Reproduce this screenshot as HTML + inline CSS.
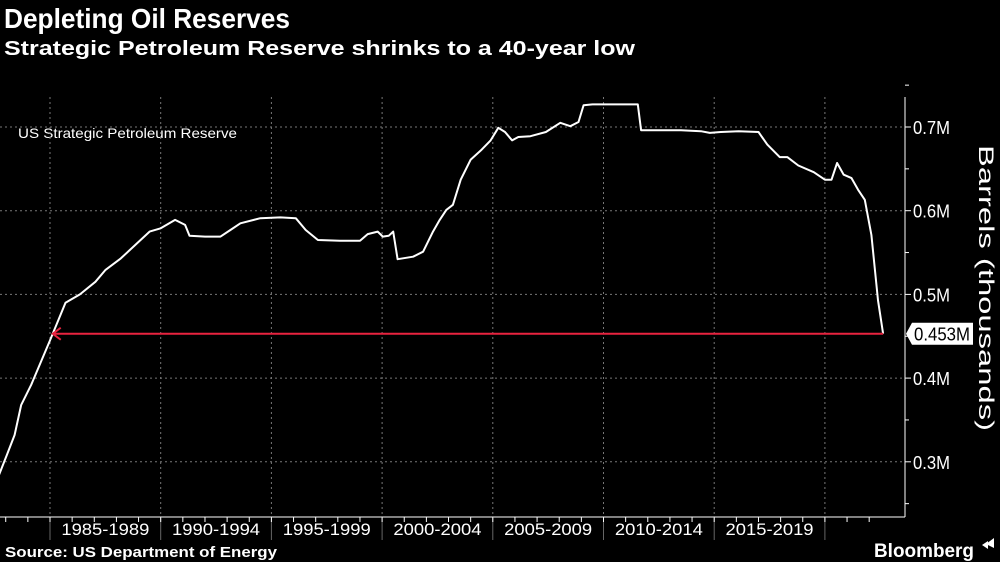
<!DOCTYPE html>
<html><head><meta charset="utf-8"><style>
html,body{margin:0;padding:0;background:#000;width:1000px;height:562px;overflow:hidden}
svg{display:block;font-family:"Liberation Sans",sans-serif}
</style></head><body>
<svg id="c" width="1000" height="562" viewBox="0 0 1000 562">
<rect width="1000" height="562" fill="#000"/>
<text x="4" y="28" fill="#fff" font-size="28" font-weight="bold" textLength="286" lengthAdjust="spacingAndGlyphs">Depleting Oil Reserves</text>
<text x="4" y="55" fill="#fff" font-size="20" font-weight="bold" textLength="631" lengthAdjust="spacingAndGlyphs">Strategic Petroleum Reserve shrinks to a 40-year low</text>
<text x="18" y="138" fill="#fff" font-size="14" textLength="219" lengthAdjust="spacingAndGlyphs">US Strategic Petroleum Reserve</text>
<g id="grid"></g>
<g id="axes"></g>
<g id="series"></g>
<text x="5" y="557" fill="#fff" font-size="15" font-weight="bold" textLength="272" lengthAdjust="spacingAndGlyphs">Source: US Department of Energy</text>
<text x="874" y="557" fill="#fff" font-size="19" font-weight="bold" textLength="100" lengthAdjust="spacingAndGlyphs">Bloomberg</text>
<path d="M982 545 L988 541 L988 549 Z M986 544 l8 -6 v10 Z" fill="#fff"/>
<text transform="translate(979,288) rotate(90)" text-anchor="middle" fill="#fff" font-size="21" textLength="286" lengthAdjust="spacingAndGlyphs">Barrels (thousands)</text>
</svg>
<script>
const years=[1982.6,1983.05,1983.4,1983.7,1984.15,1985,1985.7,1986.35,1987.05,1987.5,1988.2,1988.85,1989.5,1990,1990.65,1991.1,1991.3,1992,1992.7,1993.15,1993.6,1994.5,1995.4,1996.1,1996.55,1997.1,1998.1,1999,1999.35,1999.8,2000.03,2000.3,2000.5,2000.7,2001.4,2001.85,2002.3,2002.6,2002.9,2003.2,2003.55,2004,2004.5,2004.9,2005.25,2005.55,2005.87,2006.15,2006.7,2007.4,2008.05,2008.5,2008.87,2009.1,2009.5,2010.1,2010.8,2011.55,2011.7,2012.6,2013.5,2014.4,2014.8,2015.3,2016.1,2017,2017.4,2017.96,2018.3,2018.8,2019.5,2020,2020.3,2020.55,2020.85,2021.2,2021.5,2021.8,2022.1,2022.4,2022.63];
const values=[0.278,0.308,0.332,0.368,0.392,0.445,0.49,0.50,0.515,0.529,0.543,0.559,0.575,0.579,0.589,0.583,0.570,0.569,0.569,0.577,0.585,0.591,0.592,0.591,0.577,0.565,0.564,0.564,0.572,0.575,0.569,0.570,0.575,0.542,0.545,0.551,0.575,0.589,0.601,0.607,0.637,0.661,0.673,0.684,0.699,0.694,0.684,0.688,0.689,0.694,0.705,0.701,0.706,0.726,0.727,0.727,0.727,0.727,0.696,0.696,0.696,0.695,0.693,0.694,0.695,0.694,0.679,0.664,0.664,0.654,0.646,0.637,0.637,0.657,0.643,0.639,0.625,0.613,0.571,0.493,0.453];
const yTicks=[0.3,0.4,0.5,0.6,0.7];
const yTickLabels=["0.3M","0.4M","0.5M","0.6M","0.7M"];
const xBounds=[1985,1990,1995,2000,2005,2010,2015,2020];
const xLabels=["1985-1989","1990-1994","1995-1999","2000-2004","2005-2009","2010-2014","2015-2019"];
const latestValue=0.453;
const latestLabel="0.453M";

const NS="http://www.w3.org/2000/svg";
const xS=y=>50+(y-1985)*22.14;
const yS=v=>127+(0.7-v)*837;
function mk(tag,attrs,parent){const e=document.createElementNS(NS,tag);for(const k in attrs)e.setAttribute(k,attrs[k]);parent.appendChild(e);return e;}
const grid=document.getElementById('grid'),axes=document.getElementById('axes'),series=document.getElementById('series');
yTicks.forEach((t,i)=>{
  const l=mk('line',{x1:0,x2:905,y1:yS(t),y2:yS(t),stroke:'#777','stroke-dasharray':'2,3','stroke-width':1},grid);
  
  
  const tk=mk('line',{x1:905,x2:911,y1:yS(t),y2:yS(t),stroke:'#fff'},axes);
  
  
  const tx=mk('text',{x:913,y:yS(t)+7,fill:'#fff','font-size':18,textLength:37,lengthAdjust:'spacingAndGlyphs'},axes);
  tx.textContent=yTickLabels[i];
  
  
});
for(let v=0.25;v<0.76;v+=0.1){const m=mk('line',{x1:905,x2:909,y1:yS(v),y2:yS(v),stroke:'#fff'},axes);
  
  }
mk('line',{x1:905,x2:905,y1:97,y2:517,stroke:'#fff'},axes);
mk('line',{x1:0,x2:905,y1:517,y2:517,stroke:'#fff'},axes);
xBounds.forEach(b=>{
  const g=mk('line',{x1:xS(b),x2:xS(b),y1:97,y2:517,stroke:'#777','stroke-dasharray':'2,3'},grid);
  
  
  const t=mk('line',{x1:xS(b),x2:xS(b),y1:517,y2:540,stroke:'#666'},axes);
  
  
});
for(let y=1983;y<=2022;y++){const m=mk('line',{x1:xS(y),x2:xS(y),y1:517,y2:522,stroke:'#fff'},axes);
  
  }
xLabels.forEach((s,i)=>{
  const t=mk('text',{x:(xS(xBounds[i])+xS(xBounds[i+1]))/2,y:535,fill:'#fff','font-size':17,'text-anchor':'middle',textLength:88,lengthAdjust:'spacingAndGlyphs'},axes);
  t.textContent=s;
  
  
});
const d=years.map((y,i)=>(i?'L':'M')+xS(y).toFixed(1)+' '+yS(values[i]).toFixed(1)).join(' ');
const p=mk('path',{d:d,fill:'none',stroke:'#fff','stroke-width':2,'stroke-linejoin':'round'},series);


let cross=years[0];
for(let i=1;i<values.length;i++){if(values[i-1]<latestValue&&values[i]>=latestValue){cross=years[i-1]+(latestValue-values[i-1])/(values[i]-values[i-1])*(years[i]-years[i-1]);break;}}
const ry=yS(latestValue),rx0=xS(cross),rx1=xS(years[years.length-1]);
const rl=mk('path',{d:`M${rx0} ${ry} L${rx1} ${ry} M${rx0+8} ${ry-6} L${rx0} ${ry} L${rx0+8} ${ry+6}`,fill:'none',stroke:'#e8233f','stroke-width':2},series);


const bx=mk('path',{d:`M906 ${ry} L912 ${ry-11} H973 V${ry+11} H912 Z`,fill:'#fff'},series);


const bt=mk('text',{x:914,y:ry+7,fill:'#000','font-size':18,textLength:56,lengthAdjust:'spacingAndGlyphs'},series);
bt.textContent=latestLabel;


</script>
</body></html>
